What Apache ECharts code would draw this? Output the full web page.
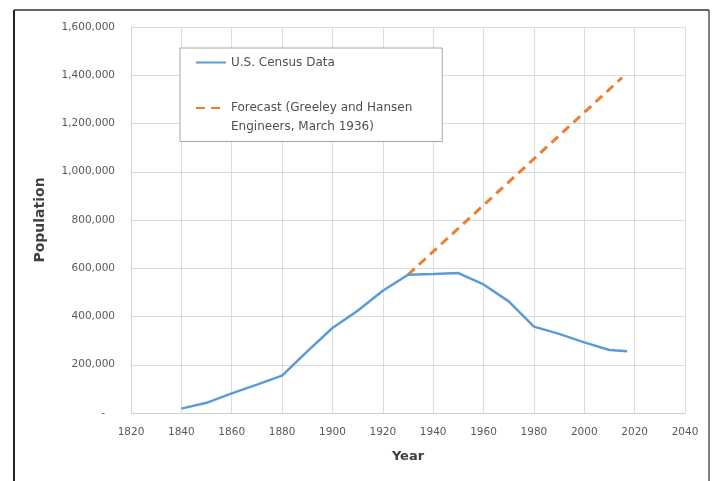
<!DOCTYPE html>
<html>
<head>
<meta charset="utf-8">
<script src="https://cdn.jsdelivr.net/npm/echarts@6/dist/echarts.min.js"></script>
<style>
html,body{margin:0;padding:0;background:#fff;}
#chart{width:712px;height:481px;}
</style>
</head>
<body>
<div id="chart"></div>
<script>
// Data
var censusYears = [1840, 1850, 1860, 1870, 1880, 1890, 1900, 1910, 1920, 1930, 1940, 1950, 1960, 1970, 1980, 1990, 2000, 2010, 2017];
var censusPop = [18213, 42261, 81129, 117714, 155134, 255664, 352387, 423715, 506775, 573076, 575901, 580132, 532759, 462768, 357870, 328123, 292648, 261310, 256000];
var forecastYears = [1930, 2015];
var forecastPop = [573076, 1390000];
var censusName = 'U.S. Census Data';
var forecastName = 'Forecast (Greeley and Hansen\nEngineers, March 1936)';

function pairs(xs, ys) { return xs.map(function (x, i) { return [x, ys[i]]; }); }

var font = '"DejaVu Sans", sans-serif';
var chart = echarts.init(document.getElementById('chart'));
chart.setOption({
  animation: false,
  backgroundColor: '#ffffff',
  grid: { left: 131, right: 27, top: 27, bottom: 68 },
  legend: {
    orient: 'vertical',
    left: 180, top: 48,
    padding: [5, 30, 5, 15],
    itemGap: 7.5,
    itemWidth: 30, itemHeight: 14,
    borderColor: '#a6a6a6', borderWidth: 1,
    backgroundColor: '#ffffff',
    itemStyle: { color: 'rgba(0,0,0,0)', borderWidth: 0, opacity: 0 },
    textStyle: { fontFamily: font, fontSize: 12, color: '#505050', lineHeight: 19 },
    formatter: function (name) { return name === forecastName ? '\n' + name : name; },
    data: [censusName, forecastName]
  },
  xAxis: {
    type: 'value', min: 1820, max: 2040, interval: 20,
    name: 'Year', nameLocation: 'middle', nameGap: 37,
    nameTextStyle: { fontFamily: font, fontSize: 13, fontWeight: 'bold', color: '#404040' },
    axisLine: { show: true, lineStyle: { color: '#d0d0d0' } },
    axisTick: { show: false },
    axisLabel: { fontFamily: font, fontSize: 10.5, color: '#595959', margin: 14, formatter: function (v) { return String(v); } },
    splitLine: { show: true, lineStyle: { color: '#dcdcdc' } }
  },
  yAxis: {
    type: 'value', min: 0, max: 1600000, interval: 200000,
    name: 'Population', nameLocation: 'middle', nameGap: 84,
    nameTextStyle: { fontFamily: font, fontSize: 14, fontWeight: 'bold', color: '#404040' },
    axisLine: { show: true, lineStyle: { color: '#d0d0d0' } },
    axisTick: { show: false },
    axisLabel: {
      fontFamily: font, fontSize: 10.5, color: '#595959', margin: 16,
      formatter: function (v) { return v === 0 ? '-   ' : v.toLocaleString('en-US'); }
    },
    splitLine: { show: true, lineStyle: { color: '#dcdcdc' } }
  },
  series: [
    {
      name: censusName, type: 'line', symbol: 'none', smooth: false,
      data: pairs(censusYears, censusPop),
      lineStyle: { color: '#5b9bd5', width: 2.5 },
      itemStyle: { color: '#5b9bd5' }, z: 3
    },
    {
      name: forecastName, type: 'line', symbol: 'none',
      data: pairs(forecastYears, forecastPop),
      lineStyle: { color: '#ed7d31', width: 3, type: [9, 6] },
      itemStyle: { color: '#ed7d31' }, z: 2
    }
  ],
  graphic: [
    { type: 'line', shape: { x1: 14, y1: 10, x2: 14, y2: 481 }, style: { stroke: '#222', lineWidth: 2 } },
    { type: 'line', shape: { x1: 14, y1: 10, x2: 709, y2: 10 }, style: { stroke: '#333', lineWidth: 1.5 } },
    { type: 'line', shape: { x1: 709, y1: 10, x2: 709, y2: 481 }, style: { stroke: '#555', lineWidth: 1.5 } }
  ]
});
</script>
</body>
</html>
